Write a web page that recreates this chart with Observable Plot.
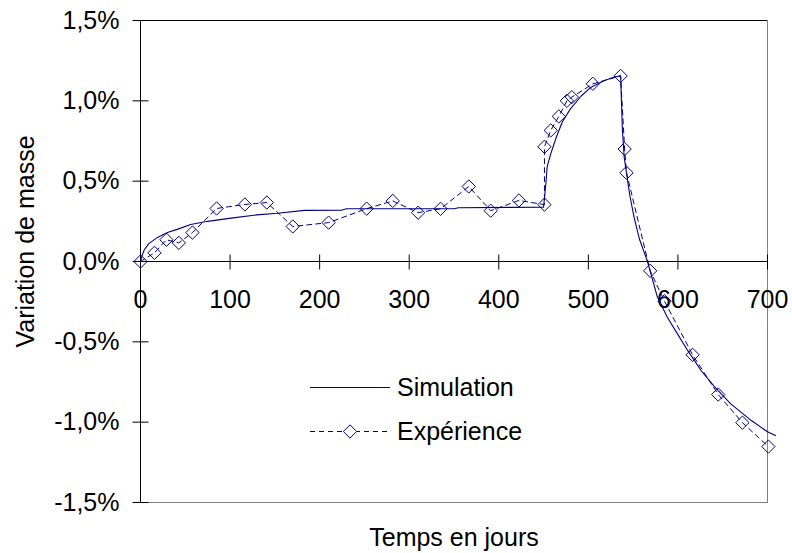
<!DOCTYPE html>
<html><head><meta charset="utf-8">
<script src="https://cdn.jsdelivr.net/npm/d3@7"></script>
<script src="https://cdn.jsdelivr.net/npm/@observablehq/plot@0.6"></script>
<style>
html,body{margin:0;padding:0;background:#fff;}
#chart{position:relative;width:792px;height:553px;font-family:"Liberation Sans",Arial,sans-serif;}
#legend{position:absolute;left:300px;top:363px;}
</style></head><body><div id="chart"></div>
<script>
// Simulation curve (days, % mass variation)
const simDays = [0, 2, 4, 9, 19, 30, 41, 56, 75, 101, 130, 153, 183, 225, 230, 350, 355, 450, 452.5, 454, 458, 464, 471, 480, 492, 503, 518, 529, 536, 538, 540, 546, 551, 557, 566, 577, 588, 600, 611, 626, 641, 659, 682, 700, 709];
const simVals = [0, 0.04, 0.07, 0.11, 0.15, 0.18, 0.20, 0.23, 0.25, 0.27, 0.29, 0.30, 0.318, 0.32, 0.328, 0.328, 0.335, 0.338, 0.48, 0.59, 0.67, 0.77, 0.87, 0.95, 1.03, 1.085, 1.127, 1.148, 1.156, 0.82, 0.65, 0.42, 0.276, 0.14, 0.0, -0.22, -0.345, -0.455, -0.555, -0.68, -0.78, -0.886, -0.99, -1.06, -1.083];
// Experimental points
const expDays = [0, 15.6, 29, 42.8, 58, 85, 116.5, 141, 170, 210, 252.5, 281.6, 310, 335, 366.5, 391, 422.5, 451, 451, 458, 467, 476, 481.5, 505, 536, 540.5, 542.6, 569, 585, 616.4, 645, 672, 701];
const expVals = [0, 0.054, 0.135, 0.116, 0.18, 0.33, 0.355, 0.367, 0.218, 0.242, 0.329, 0.377, 0.304, 0.328, 0.467, 0.316, 0.38, 0.354, 0.714, 0.816, 0.903, 1.0, 1.023, 1.106, 1.155, 0.70, 0.552, -0.058, -0.247, -0.581, -0.828, -1.003, -1.152];
// Ticks and labels
const xTicks = [0, 100, 200, 300, 400, 500, 600, 700];
const yTicks = [-1.5, -1.0, -0.5, 0, 0.5, 1.0, 1.5];
const xTitle = "Temps en jours";
const yTitle = "Variation de masse";
const seriesNames = ["Simulation", "Expérience"];

const color = "#000080";
const FONT = '"Liberation Sans", Arial, sans-serif';

const sim = simDays.map((d, i) => ({x: d, y: simVals[i]}));
const exp = expDays.map((d, i) => ({x: d, y: expVals[i]}));

const vTick = {draw(ctx) { ctx.moveTo(0, -7); ctx.lineTo(0, 8); }};
const hTick = {draw(ctx) { ctx.moveTo(-8, 0); ctx.lineTo(8, 0); }};
const fmtY = d => d.toFixed(1).replace(".", ",") + "%";
const R = 6;

const plot = Plot.plot({
  width: 792,
  height: 553,
  marginLeft: 140,
  marginRight: 25,
  marginTop: 20,
  marginBottom: 51,
  style: {fontFamily: FONT, fontSize: "25px", color: "black", background: "white", overflow: "visible"},
  x: {domain: [0, 700], axis: null},
  y: {domain: [-1.5, 1.5], axis: null},
  marks: [
    Plot.frame({stroke: "#808080"}),
    Plot.ruleY([1.5], {stroke: "black"}),
    Plot.ruleX([0], {stroke: "black"}),
    Plot.ruleY([0], {stroke: "black"}),
    Plot.dot(xTicks, {x: d => d, y: 0, symbol: vTick, stroke: "black", fill: "none", strokeWidth: 1}),
    Plot.dot(yTicks, {x: 0, y: d => d, symbol: hTick, stroke: "black", fill: "none", strokeWidth: 1}),
    Plot.text(xTicks, {x: d => d, y: 0, text: d => String(d), dy: 38, fontSize: 25, fill: "black", lineAnchor: "middle"}),
    Plot.text(yTicks, {x: 0, y: d => d, text: fmtY, dx: -21, textAnchor: "end", fontSize: 25, fill: "black", lineAnchor: "middle"}),
    Plot.text([yTitle], {frameAnchor: "left", dx: -115, dy: -20, rotate: -90, fontSize: 25, fill: "black", lineAnchor: "middle", textAnchor: "middle"}),
    Plot.text([xTitle], {frameAnchor: "bottom", dy: 35, fontSize: 25, fill: "black", lineAnchor: "middle", textAnchor: "middle"}),
    Plot.line(exp, {x: "x", y: "y", stroke: color, strokeWidth: 1, strokeDasharray: "5,4", curve: "linear"}),
    Plot.line(sim, {x: "x", y: "y", stroke: color, strokeWidth: 1.1, curve: "linear"}),
    Plot.dot(exp, {x: "x", y: "y", symbol: "diamond2", r: R, stroke: color, fill: "none", strokeWidth: 1})
  ]
});
document.getElementById("chart").appendChild(plot);

// Legend overlay
const lg = d3.select("#chart").append("svg").attr("id", "legend")
  .attr("width", 240).attr("height", 90)
  .style("font-family", FONT).style("font-size", "25px");
lg.append("line").attr("x1", 10).attr("x2", 90).attr("y1", 24.5).attr("y2", 24.5)
  .attr("stroke", color).attr("stroke-width", 1.1);
lg.append("text").attr("x", 97).attr("y", 24).attr("dy", "0.35em").attr("fill", "black").text(seriesNames[0]);
lg.append("line").attr("x1", 10).attr("x2", 90).attr("y1", 68.5).attr("y2", 68.5)
  .attr("stroke", color).attr("stroke-width", 1).attr("stroke-dasharray", "5,4");
lg.append("path").attr("transform", "translate(50,68.5)")
  .attr("d", d3.symbol(d3.symbolDiamond2, Math.PI * R * R)())
  .attr("stroke", color).attr("fill", "white").attr("stroke-width", 1);
lg.append("text").attr("x", 97).attr("y", 68).attr("dy", "0.35em").attr("fill", "black").text(seriesNames[1]);
</script>
</body></html>
